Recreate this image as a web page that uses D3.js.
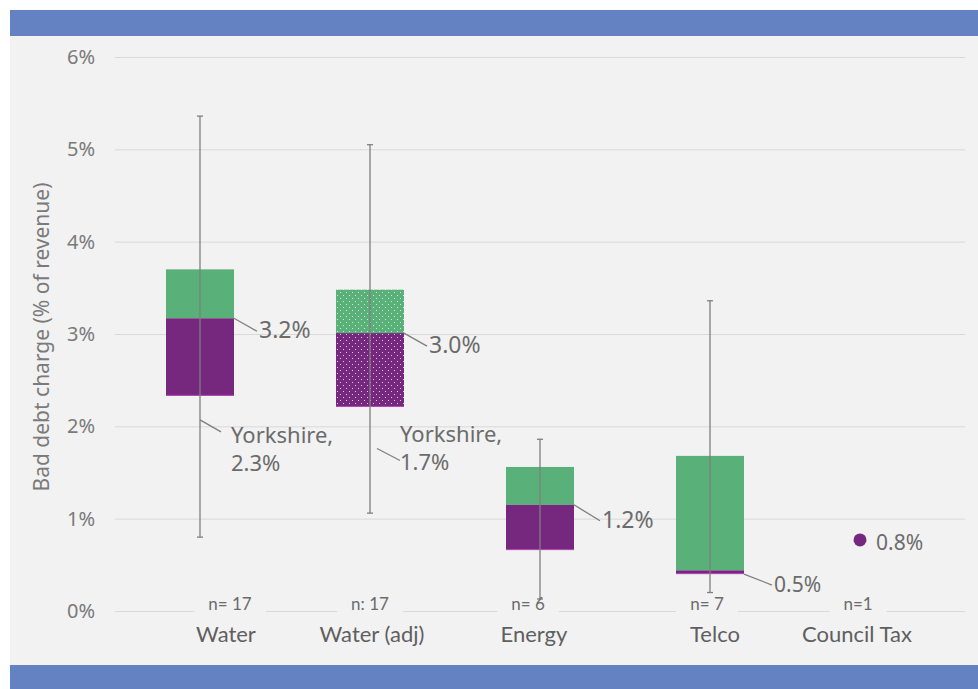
<!DOCTYPE html>
<html>
<head>
<meta charset="utf-8">
<script src="https://cdn.jsdelivr.net/npm/d3@7"></script>
<style>
  body { margin: 0; background: #fff; }
  svg text { font-family: "Noto Sans", "Open Sans", sans-serif; }
  .narrow { font-family: Lato, "Noto Sans", sans-serif !important; }
</style>
</head>
<body>
<svg id="chart" width="978" height="689"></svg>
<script>
// data (% of revenue)
var categories = ["Water", "Water (adj)", "Energy", "Telco", "Council Tax"];
var nLabels = ["n= 17", "n: 17", "n= 6", "n= 7", "n=1"];
var whiskerLow = [0.80, 1.06, 0.13, 0.20, null];
var whiskerHigh = [5.36, 5.05, 1.86, 3.36, null];
var boxLow = [2.33, 2.21, 0.66, 0.40, null];
var medians = [3.17, 3.01, 1.15, 0.44, 0.77];
var boxHigh = [3.70, 3.48, 1.56, 1.68, null];
var medianLabels = ["3.2%", "3.0%", "1.2%", "0.5%", "0.8%"];
var yorkshireVals = [2.07, 1.76];   // where the leader touches the whisker
var yorkshireLabels = [["Yorkshire,", "2.3%"], ["Yorkshire,", "1.7%"]];
var yTicks = [0, 1, 2, 3, 4, 5, 6];

var purple = "#76287e", green = "#59b079", bg = "#f2f2f2", banner = "#6481c1";
var textCol = "#6b6b6b";

var svg = d3.select("#chart");

// background + banners
svg.append("rect").attr("x", 10).attr("y", 10).attr("width", 968).attr("height", 679).attr("fill", bg);
svg.append("rect").attr("x", 10).attr("y", 10).attr("width", 968).attr("height", 26).attr("fill", banner);
svg.append("rect").attr("x", 10).attr("y", 665).attr("width", 968).attr("height", 24).attr("fill", banner);

// dotted pattern for the adjusted water box
var defs = svg.append("defs");
[["dotPurple", purple], ["dotGreen", green]].forEach(function(p) {
  var pat = defs.append("pattern").attr("id", p[0]).attr("patternUnits", "userSpaceOnUse")
    .attr("width", 6).attr("height", 6);
  pat.append("rect").attr("width", 6).attr("height", 6).attr("fill", p[1]);
  pat.append("rect").attr("x", 1).attr("y", 1).attr("width", 1).attr("height", 1).attr("fill", "#fff").attr("opacity", 0.75);
  pat.append("rect").attr("x", 4).attr("y", 4).attr("width", 1).attr("height", 1).attr("fill", "#fff").attr("opacity", 0.75);
});

var x = d3.scaleBand().domain(categories).range([115, 965]).paddingInner(0.6).paddingOuter(0.3);
var y = d3.scaleLinear().domain([0, 6]).range([611, 57]);

// gridlines
var yAxis = d3.axisLeft(y).tickValues(yTicks).tickSize(-850).tickFormat(function(d) { return d + "%"; });
var ga = svg.append("g").attr("transform", "translate(115,0)").call(yAxis);
ga.select(".domain").remove();
ga.selectAll(".tick line").attr("stroke", "#d9d9d9").attr("stroke-width", 1);
ga.selectAll(".tick text").attr("x", -20).attr("fill", "#7a7a7a").style("font-size", "20px");

svg.append("text")
  .attr("transform", "translate(49,337) rotate(-90)")
  .attr("text-anchor", "middle")
  .attr("fill", "#7a7a7a")
  .style("font-size", "21px")
  .text("Bad debt charge (% of revenue)");

var idx = d3.range(categories.length);
var boxIdx = idx.filter(function(i) { return boxLow[i] !== null; });

// boxes
var boxes = svg.append("g");
boxIdx.forEach(function(i) {
  var cx = x(categories[i]), w = x.bandwidth();
  var dotted = i === 1;
  boxes.append("rect").attr("x", cx).attr("width", w)
    .attr("y", y(boxHigh[i])).attr("height", y(medians[i]) - y(boxHigh[i]))
    .attr("fill", dotted ? "url(#dotGreen)" : green);
  boxes.append("rect").attr("x", cx).attr("width", w)
    .attr("y", y(medians[i])).attr("height", y(boxLow[i]) - y(medians[i]))
    .attr("fill", dotted ? "url(#dotPurple)" : purple);
  boxes.append("line").attr("x1", cx).attr("x2", cx + w)
    .attr("y1", y(boxLow[i]) - 0.5).attr("y2", y(boxLow[i]) - 0.5)
    .attr("stroke", "#b44bb8").attr("stroke-width", 1);
});

// whiskers
boxIdx.forEach(function(i) {
  var cx = x(categories[i]) + x.bandwidth() / 2;
  var g = svg.append("g").attr("stroke", "#7f7f7f").attr("stroke-width", 1.3);
  g.append("line").attr("x1", cx).attr("x2", cx).attr("y1", y(whiskerHigh[i])).attr("y2", y(whiskerLow[i]));
  g.append("line").attr("x1", cx - 3).attr("x2", cx + 3).attr("y1", y(whiskerHigh[i])).attr("y2", y(whiskerHigh[i]));
  g.append("line").attr("x1", cx - 3).attr("x2", cx + 3).attr("y1", y(whiskerLow[i])).attr("y2", y(whiskerLow[i]));
});

// council tax single point
svg.append("circle")
  .attr("cx", x(categories[4]) + x.bandwidth() / 2 - 20)
  .attr("cy", y(medians[4]))
  .attr("r", 6.5)
  .attr("fill", purple);

// median annotations
var ann = svg.append("g");
boxIdx.forEach(function(i) {
  var x0 = x(categories[i]) + x.bandwidth();
  var y0 = i === 3 ? y(boxLow[i]) : y(medians[i]);
  var dx = i === 3 ? 28 : (i === 2 ? 26 : 23), dy = i === 3 ? 11 : (i === 2 ? 16 : 13);
  ann.append("line").attr("x1", x0).attr("y1", y0).attr("x2", x0 + dx).attr("y2", y0 + dy)
    .attr("stroke", "#7f7f7f").attr("stroke-width", 1.3);
  ann.append("text").attr("x", x0 + dx + 2).attr("y", y0 + dy + 1)
    .attr("dominant-baseline", "middle").attr("fill", textCol)
    .style("font-size", i === 3 ? "21px" : "23px").text(medianLabels[i]);
});
ann.append("text")
  .attr("x", x(categories[4]) + x.bandwidth() / 2 - 4).attr("y", y(medians[4]) + 4)
  .attr("dominant-baseline", "middle").attr("fill", textCol).style("font-size", "21px")
  .text(medianLabels[4]);

// Yorkshire annotations
var yorkLayout = [{ dx: 21, dy: 12, tx: 31, ty: 17 }, { dx: 23, dy: 12, tx: 23, ty: -12 }];
yorkshireVals.forEach(function(v, i) {
  var cx = x(categories[i]) + x.bandwidth() / 2 + (i === 1 ? 7 : 0);
  var y0 = y(v), L = yorkLayout[i];
  ann.append("line").attr("x1", cx).attr("y1", y0).attr("x2", cx + L.dx).attr("y2", y0 + L.dy)
    .attr("stroke", "#7f7f7f").attr("stroke-width", 1.3);
  var t = ann.append("text").attr("x", cx + L.tx).attr("y", y0 + L.ty)
    .attr("dominant-baseline", "middle").attr("fill", textCol).style("font-size", "22px");
  yorkshireLabels[i].forEach(function(s, j) {
    t.append("tspan").attr("x", cx + L.tx).attr("dy", j === 0 ? 0 : 28).text(s);
  });
});

// n labels and category labels (with small nudges as in the original)
var nNudge = [30, 0, -12, -3, -22];
var catNudge = [26, 2, -6, 5, -23];
var bottom = svg.append("g");
idx.forEach(function(i) {
  var cx = x(categories[i]) + x.bandwidth() / 2;
  var nt = bottom.append("text").attr("class", "narrow")
    .attr("x", cx + nNudge[i]).attr("y", 610)
    .attr("text-anchor", "middle").attr("fill", textCol).style("font-size", "17px")
    .text(nLabels[i]);
  var bb = nt.node().getBBox();
  bottom.insert("rect", "text").attr("x", bb.x - 14).attr("y", 609).attr("width", bb.width + 28).attr("height", 4).attr("fill", bg);
  bottom.append("text").attr("class", "narrow")
    .attr("x", cx + catNudge[i]).attr("y", 642)
    .attr("text-anchor", "middle").attr("fill", "#5f5f5f").style("font-size", "22px")
    .text(categories[i]);
});
</script>
</body>
</html>
